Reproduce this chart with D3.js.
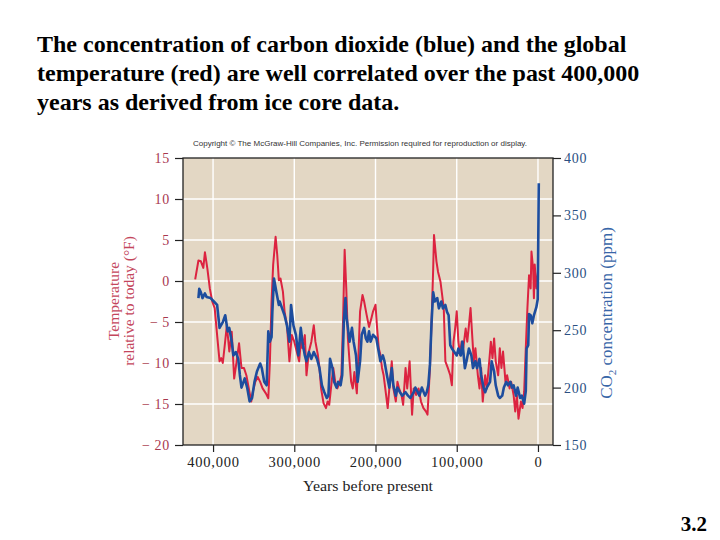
<!DOCTYPE html>
<html><head><meta charset="utf-8">
<script src="https://cdn.jsdelivr.net/npm/d3@7"></script>
<style>body{margin:0;background:#fff}</style>
</head><body>
<svg id="c" width="720" height="540"></svg>
<script>
const titleLines = [
  "The concentration of carbon dioxide (blue) and the global",
  "temperature (red) are well correlated over the past 400,000",
  "years as derived from ice core data."
];
const copyrightText = "Copyright \u00A9 The McGraw-Hill Companies, Inc. Permission required for reproduction or display.";
const slideNumber = "3.2";
const xLabel = "Years before present";
const tempLabel = ["Temperature", "relative to today (\u00B0F)"];
const xTicks = [400, 300, 200, 100, 0];           // thousand years before present
const tempTicks = [15, 10, 5, 0, -5, -10, -15, -20];
const co2Ticks = [400, 350, 300, 250, 200, 150];

// Temperature (red), thousand years before present
const tempYears = [422,418,415,412,410,407,404,401,398,395,392,390,388,386,383,380,377,374,371,368,365,362,359,356,353,351,348,345,342,339,335,332,330,328,326,323,321,319,317,314,312,309,306,303,300,297,294,292,290,287,285,282,279,276,274,271,269,267,264,261,259,257,254,252,249,247,244,242,240,238,236,234,232,230,228,226,223,221,219,216,214,211,208,205,203,200,198,196,194,192,190,188,185,183,180,178,175,173,171,168,166,163,161,158,155,153,150,147,144,141,138,136,133,131,129,128,125,123,120,118,116,114,111,108,106,104,102,100,98,96,94,92,89,87,85,83,81,79,77,74,72,70,68,65,63,60,58,56,54,52,49,47,45,43,40,38,35,33,30,28,26,24,21,19,17,15,13,11,9,8,6,5,4,2,0];
const tempValues = [0.2,2.5,2.4,1.6,3.5,1.5,-0.9,-2.5,-3.3,-6.6,-9.8,-9.4,-10.0,-8.2,-5.4,-8.6,-6.2,-11.9,-9.8,-7.6,-10.6,-10.6,-11.5,-13.1,-14.7,-13.5,-12.3,-11.7,-12.3,-13.1,-13.7,-14.3,-9.8,-2.5,2.0,5.4,3.2,0.1,0.3,-1.3,-3.7,-5.4,-9.8,-6.6,-7.4,-8.6,-9.8,-7.4,-8.2,-6.6,-11.5,-8.6,-7.4,-5.4,-7.4,-9.0,-10.6,-13.1,-14.9,-15.5,-14.7,-15.1,-12.3,-10.6,-12.7,-13.1,-12.3,-11.5,-5.0,3.8,-0.9,-7.0,-9.8,-12.3,-13.1,-11.1,-13.7,-9.0,-3.7,-1.7,-2.5,-4.1,-5.6,-4.5,-3.7,-2.9,-5.8,-8.2,-9.0,-10.6,-11.5,-13.1,-15.5,-13.1,-9.8,-13.1,-14.7,-12.3,-13.1,-13.9,-15.1,-10.6,-13.1,-9.8,-16.3,-13.1,-13.9,-13.1,-14.7,-15.5,-15.9,-16.3,-10.6,-5.0,1.5,5.6,2.4,1.1,-0.1,-1.7,-3.3,-9.8,-10.6,-11.5,-12.7,-7.4,-5.8,-3.7,-7.4,-9.0,-7.4,-8.2,-5.8,-7.4,-5.4,-3.3,-6.6,-9.8,-8.2,-11.5,-13.1,-10.6,-14.7,-11.5,-13.1,-9.8,-7.4,-9.4,-7.0,-9.8,-11.5,-8.2,-10.6,-8.6,-12.3,-11.5,-13.1,-12.3,-13.9,-15.9,-13.9,-16.8,-14.7,-15.5,-13.5,-8.2,-3.3,0.7,-0.9,3.6,1.5,-2.1,2.0,-0.9,1.1];

// CO2 (blue), thousand years before present
const co2Years = [418,417,415,413,410,408,403,399,395,392,388,385,382,380,377,375,372,369,367,365,361,358,355,352,349,346,342,340,337,334,332,330,328,327,325,322,319,318,315,312,309,306,304,301,298,295,292,290,287,285,282,279,276,272,269,266,263,260,258,256,253,251,248,246,243,241,239,237,236,234,232,229,227,224,222,219,217,214,212,210,208,206,203,199,196,194,191,189,186,183,180,178,175,173,170,167,163,160,157,153,151,148,146,143,139,137,135,133,131,129,127,124,122,119,117,114,112,110,108,106,103,100,98,95,93,90,88,85,82,80,77,75,72,70,67,65,63,59,57,54,52,49,47,44,42,39,37,34,32,30,27,25,22,20,17,15,14,12,11,9,7,5,2,0.3,-1];
const co2Values = [278,286,283,278,282,279,278,275,272,252,257,263,249,252,240,228,231,225,211,200,208,200,188,191,205,214,221,217,205,202,249,240,244,266,295,283,272,275,269,263,254,240,272,254,246,228,252,240,228,223,231,225,231,225,217,202,196,191,193,225,217,205,200,205,202,211,257,278,263,252,240,252,240,228,205,223,246,252,243,240,249,240,246,243,231,223,228,223,211,200,217,202,193,200,196,193,196,193,191,196,200,196,193,200,193,196,202,220,257,283,275,278,269,275,269,272,266,263,237,234,231,228,234,228,240,217,223,234,228,217,223,217,225,211,200,196,200,205,223,214,202,193,191,193,200,205,202,205,200,202,193,200,191,193,186,197,234,237,264,263,256,263,270,277,378];

const W = 720, H = 540;
const plot = {left: 183, right: 553, top: 158, bottom: 445};
const svg = d3.select("#c");
svg.append("rect").attr("width", W).attr("height", H).attr("fill", "#fff");

const serif = "'Liberation Serif', 'Times New Roman', serif";
const titleG = svg.append("g").attr("font-family", serif).attr("font-weight", "bold")
  .attr("font-size", 24).attr("fill", "#000");
titleLines.forEach((t, i) => titleG.append("text").attr("x", 37).attr("y", 52 + i * 29).text(t));

const x = d3.scaleLinear().domain([437, -18.5]).range([plot.left, plot.right]);
const yT = d3.scaleLinear().domain([-20, 15]).range([plot.bottom, plot.top]);
const yC = d3.scaleLinear().domain([150, 400]).range([plot.bottom, plot.top]);

// copyright
svg.append("text").attr("x", 360).attr("y", 146).attr("text-anchor", "middle")
  .attr("font-family", "'Liberation Sans', Arial, sans-serif").attr("font-size", 7.6)
  .attr("fill", "#333").attr("textLength", 334).attr("lengthAdjust", "spacingAndGlyphs")
  .text(copyrightText);

// background
svg.append("rect").attr("x", plot.left).attr("y", plot.top)
  .attr("width", plot.right - plot.left).attr("height", plot.bottom - plot.top)
  .attr("fill", "#e3d7c4");

// gridlines
svg.append("g").selectAll("line").data(tempTicks.filter(d => d < 15 && d > -20)).join("line")
  .attr("x1", plot.left).attr("x2", plot.right).attr("y1", d => yT(d)).attr("y2", d => yT(d))
  .attr("stroke", "#fff").attr("stroke-width", 1.4);
svg.append("g").selectAll("line").data(xTicks).join("line")
  .attr("x1", d => x(d)).attr("x2", d => x(d)).attr("y1", plot.top).attr("y2", plot.bottom)
  .attr("stroke", "#fff").attr("stroke-width", 1.4);

// lines
const tempData = tempYears.map((d, i) => [d, tempValues[i]]);
const co2Data = co2Years.map((d, i) => [d, co2Values[i]]);
svg.append("path").datum(tempData)
  .attr("d", d3.line().x(d => x(d[0])).y(d => yT(d[1])))
  .attr("fill", "none").attr("stroke", "#dc2340").attr("stroke-width", 2).attr("stroke-linejoin", "round");
svg.append("path").datum(co2Data)
  .attr("d", d3.line().x(d => x(d[0])).y(d => yC(d[1])))
  .attr("fill", "none").attr("stroke", "#1d4d9e").attr("stroke-width", 2.6).attr("stroke-linejoin", "round");

// frame
svg.append("rect").attr("x", plot.left).attr("y", plot.top)
  .attr("width", plot.right - plot.left).attr("height", plot.bottom - plot.top)
  .attr("fill", "none").attr("stroke", "#222").attr("stroke-width", 1.3);

const fmtT = d => d < 0 ? "\u2212\u2009" + (-d) : String(d);

// left axis
const axL = svg.append("g").attr("transform", `translate(${plot.left},0)`)
  .call(d3.axisLeft(yT).tickValues(tempTicks).tickFormat(fmtT).tickSize(8).tickPadding(5));
axL.select(".domain").remove();
axL.selectAll(".tick line").attr("stroke", "#222").attr("stroke-width", 1.2);
axL.selectAll(".tick text").attr("font-family", serif).attr("font-size", 14)
  .attr("letter-spacing", 0.8).attr("fill", "#a8384f");

// right axis
const axR = svg.append("g").attr("transform", `translate(${plot.right},0)`)
  .call(d3.axisRight(yC).tickValues(co2Ticks).tickSize(8).tickPadding(3));
axR.select(".domain").remove();
axR.selectAll(".tick line").attr("stroke", "#222").attr("stroke-width", 1.2);
axR.selectAll(".tick text").attr("font-family", serif).attr("font-size", 14)
  .attr("letter-spacing", 0.8).attr("fill", "#2b4f82");

// bottom axis
const axB = svg.append("g").attr("transform", `translate(0,${plot.bottom})`)
  .call(d3.axisBottom(x).tickValues(xTicks).tickFormat(d => d3.format(",")(d * 1000)).tickSize(7).tickPadding(5));
axB.select(".domain").remove();
axB.selectAll(".tick line").attr("stroke", "#222").attr("stroke-width", 1.2);
axB.selectAll(".tick text").attr("font-family", serif).attr("font-size", 14.5)
  .attr("letter-spacing", 0.8).attr("fill", "#222");

// axis titles
svg.append("text").attr("x", 368).attr("y", 491).attr("text-anchor", "middle")
  .attr("font-family", serif).attr("font-size", 15.5).attr("fill", "#222")
  .attr("textLength", 130).attr("lengthAdjust", "spacingAndGlyphs").text(xLabel);

tempLabel.forEach((t, i) => svg.append("text")
  .attr("transform", `translate(${119 + i * 15},${301}) rotate(-90)`)
  .attr("text-anchor", "middle").attr("font-family", serif).attr("font-size", 15.5).attr("fill", "#c4465c")
  .text(t));

const rt = svg.append("text").attr("transform", "translate(612,313) rotate(-90)")
  .attr("text-anchor", "middle").attr("font-family", serif).attr("font-size", 17).attr("fill", "#3866a8");
rt.append("tspan").text("CO");
rt.append("tspan").attr("font-size", 11).attr("dy", 4).text("2");
rt.append("tspan").attr("dy", -4).text(" concentration (ppm)");

// slide number
svg.append("text").attr("x", 707).attr("y", 531).attr("text-anchor", "end")
  .attr("font-family", serif).attr("font-weight", "bold").attr("font-size", 21).text(slideNumber);
</script>
</body></html>
